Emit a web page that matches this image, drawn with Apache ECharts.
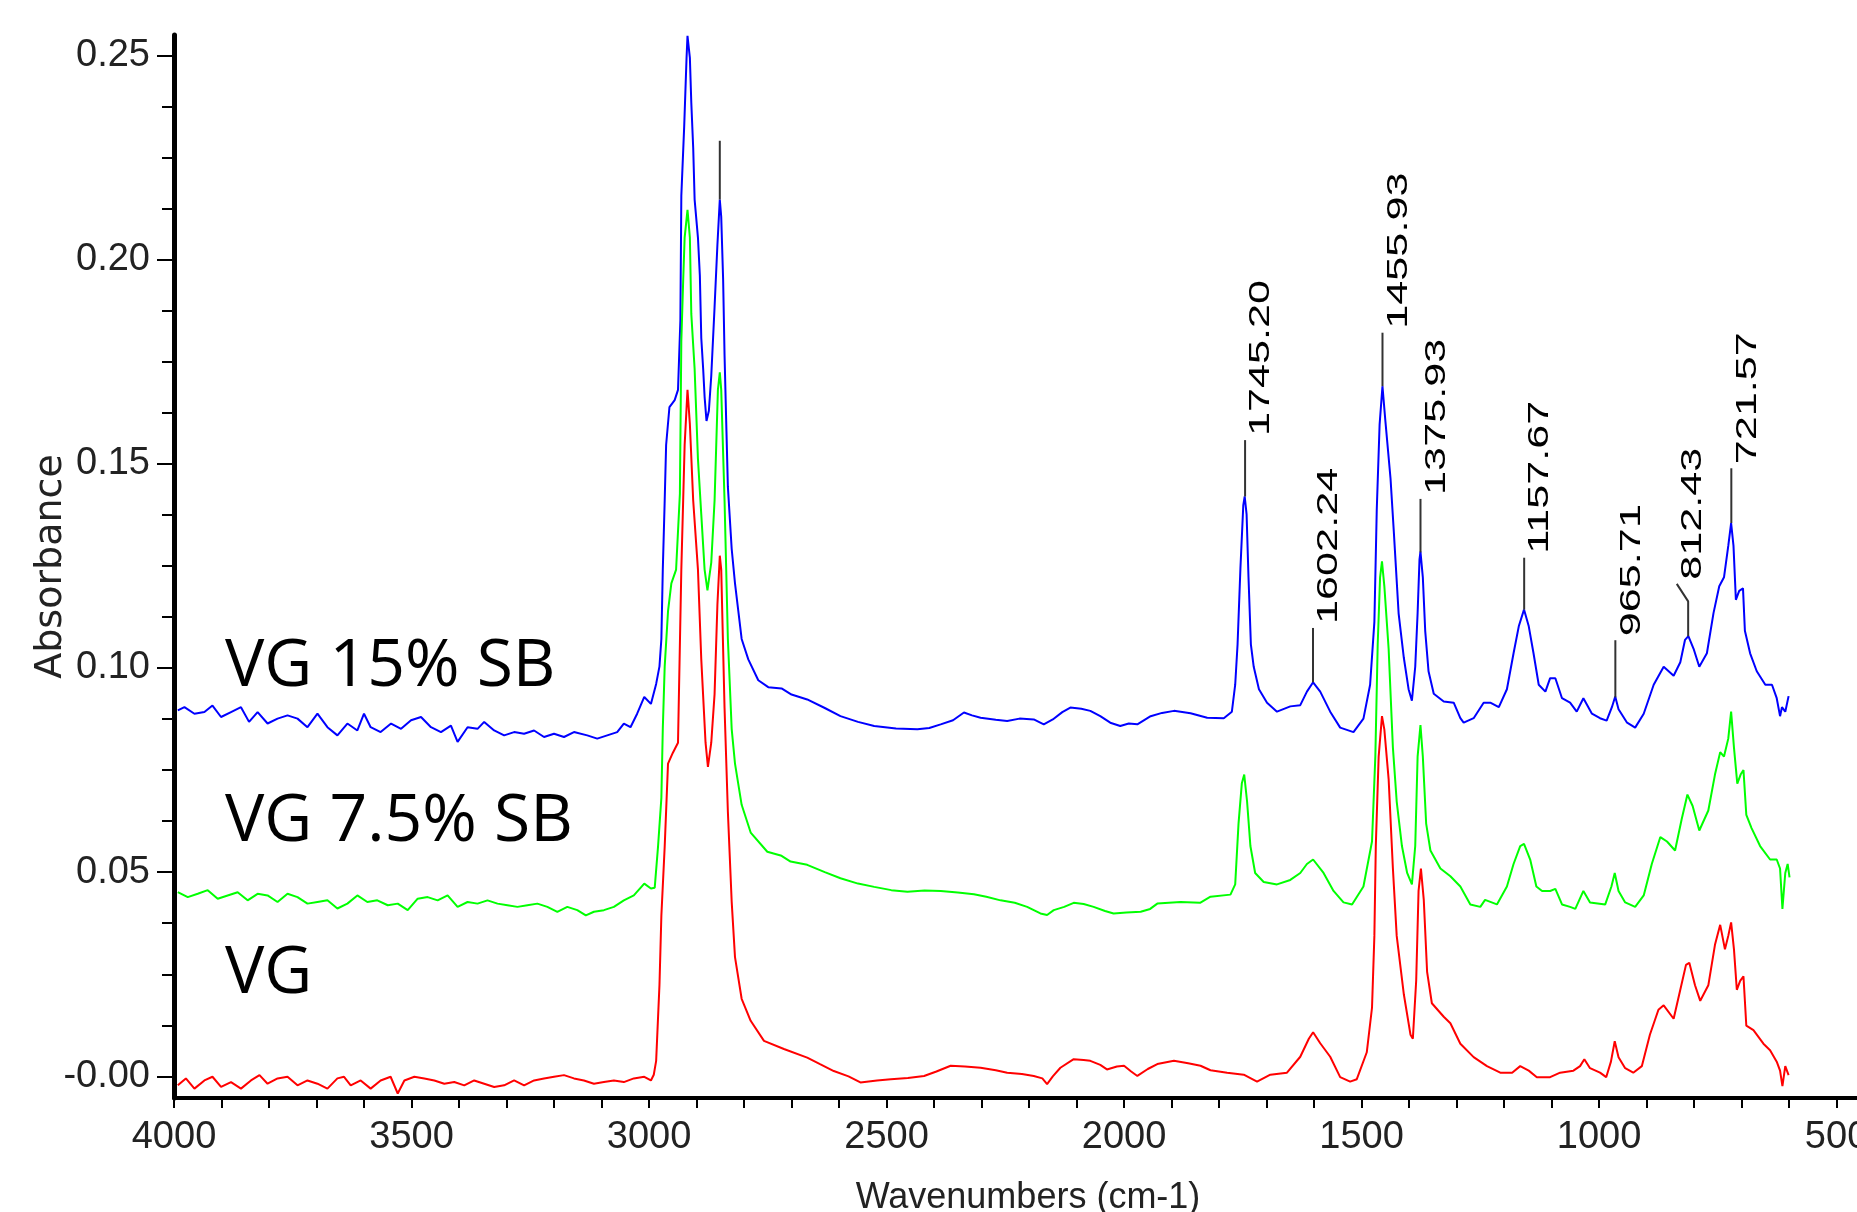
<!DOCTYPE html>
<html>
<head>
<meta charset="utf-8">
<script src="https://cdn.jsdelivr.net/npm/echarts@6/dist/echarts.min.js"></script>
<style>
html,body{margin:0;padding:0;background:#fff;}
#chart{width:1857px;height:1212px;}
</style>
</head>
<body>
<div id="chart"></div>
<script>
// ---------------- DATA ----------------
const vg15Wn = [3992,3978,3957,3936,3919,3901,3880,3859,3842,3824,3803,3782,3761,3740,3719,3698,3677,3656,3635,3614,3600,3586,3565,3543,3522,3501,3480,3459,3438,3417,3403,3382,3361,3347,3326,3305,3284,3263,3242,3221,3200,3179,3158,3130,3109,3088,3067,3053,3039,3025,3010,2996,2985,2978,2974,2971,2967,2964,2957,2946,2939,2934,2932,2926,2921,2919,2914,2911,2907,2904,2897,2893,2890,2886,2883,2879,2874,2869,2862,2856,2851,2848,2844,2841,2837,2834,2826,2819,2812,2805,2791,2770,2749,2721,2700,2667,2630,2597,2560,2526,2480,2435,2410,2386,2360,2337,2320,2302,2270,2246,2220,2190,2169,2150,2130,2113,2090,2071,2050,2029,2008,1990,1972,1944,1920,1895,1860,1825,1790,1773,1766,1761,1755,1749,1746,1742,1738,1733,1727,1716,1699,1678,1650,1629,1615,1602,1587,1566,1545,1517,1496,1482,1473,1468,1462,1456,1450,1439,1432,1422,1411,1401,1394,1387,1382,1378,1376,1371,1366,1359,1348,1327,1306,1292,1285,1264,1243,1229,1211,1194,1180,1169,1158,1148,1138,1127,1113,1103,1092,1078,1061,1047,1033,1015,998,984,973,966,959,941,924,906,885,864,843,829,819,812,801,789,773,759,747,737,728,722,717,712,705,697,693,682,668,650,636,626,619,615,608,601];
const vg15Abs = [0.0896,0.0904,0.0888,0.0892,0.0908,0.0880,0.0892,0.0904,0.0868,0.0892,0.0864,0.0876,0.0884,0.0876,0.0855,0.0888,0.0855,0.0835,0.0864,0.0847,0.0888,0.0855,0.0843,0.0864,0.0851,0.0872,0.0880,0.0855,0.0843,0.0859,0.0819,0.0855,0.0851,0.0868,0.0847,0.0835,0.0843,0.0839,0.0847,0.0831,0.0839,0.0831,0.0843,0.0835,0.0827,0.0835,0.0843,0.0864,0.0855,0.0888,0.0929,0.0912,0.0961,0.1004,0.1071,0.1241,0.1410,0.1546,0.1639,0.1656,0.1681,0.1851,0.2156,0.2325,0.2494,0.2548,0.2494,0.2384,0.2274,0.2147,0.2054,0.1961,0.1808,0.1732,0.1664,0.1605,0.1630,0.1715,0.1884,0.2037,0.2147,0.2105,0.1952,0.1766,0.1580,0.1444,0.1292,0.1207,0.1139,0.1071,0.1021,0.0970,0.0953,0.0950,0.0935,0.0923,0.0902,0.0882,0.0868,0.0858,0.0852,0.0850,0.0853,0.0862,0.0872,0.0891,0.0884,0.0878,0.0873,0.0870,0.0876,0.0874,0.0862,0.0874,0.0892,0.0903,0.0900,0.0895,0.0882,0.0866,0.0858,0.0864,0.0862,0.0882,0.0890,0.0895,0.0889,0.0878,0.0877,0.0893,0.0959,0.1058,0.1244,0.1398,0.1420,0.1376,0.1222,0.1058,0.1003,0.0948,0.0915,0.0893,0.0906,0.0909,0.0942,0.0965,0.0942,0.0893,0.0854,0.0843,0.0876,0.0959,0.1113,0.1387,0.1596,0.1690,0.1607,0.1464,0.1332,0.1134,0.1025,0.0948,0.0920,0.1003,0.1134,0.1266,0.1285,0.1222,0.1091,0.0992,0.0937,0.0918,0.0915,0.0877,0.0866,0.0877,0.0915,0.0915,0.0904,0.0948,0.1036,0.1102,0.1143,0.1102,0.1036,0.0959,0.0942,0.0975,0.0975,0.0926,0.0915,0.0893,0.0926,0.0888,0.0877,0.0871,0.0904,0.0930,0.0899,0.0866,0.0854,0.0888,0.0959,0.1003,0.0981,0.1014,0.1069,0.1078,0.1047,0.1003,0.1036,0.1135,0.1200,0.1222,0.1299,0.1355,0.1299,0.1167,0.1189,0.1195,0.1091,0.1036,0.0992,0.0959,0.0959,0.0926,0.0882,0.0904,0.0893,0.0931];

const vg75Wn = [3992,3971,3950,3929,3908,3887,3866,3845,3824,3803,3782,3761,3740,3719,3698,3677,3656,3635,3614,3593,3572,3550,3529,3508,3487,3466,3445,3424,3403,3382,3361,3340,3319,3298,3277,3256,3235,3214,3193,3172,3151,3133,3116,3095,3074,3053,3032,3010,2996,2988,2981,2974,2971,2967,2960,2953,2943,2935,2932,2928,2925,2919,2914,2911,2904,2897,2890,2883,2877,2869,2862,2855,2851,2848,2841,2834,2826,2819,2805,2786,2751,2721,2702,2667,2630,2597,2560,2526,2490,2456,2420,2386,2350,2316,2290,2260,2230,2204,2176,2162,2148,2126,2106,2085,2064,2040,2022,1995,1965,1945,1930,1881,1840,1818,1776,1766,1759,1752,1747,1741,1734,1724,1706,1678,1650,1629,1615,1602,1580,1559,1538,1520,1496,1478,1471,1466,1461,1457,1452,1443,1434,1426,1415,1404,1394,1387,1382,1376,1371,1364,1355,1334,1313,1292,1271,1250,1240,1215,1194,1180,1166,1158,1145,1132,1120,1103,1092,1078,1061,1050,1033,1019,987,974,967,959,945,924,906,889,871,857,840,826,814,803,789,770,756,745,737,728,722,716,709,702,696,690,679,661,640,626,619,614,608,603,599];
const vg75Abs = [0.0451,0.0439,0.0447,0.0456,0.0435,0.0443,0.0451,0.0431,0.0447,0.0443,0.0427,0.0447,0.0439,0.0423,0.0427,0.0431,0.0411,0.0423,0.0443,0.0427,0.0431,0.0419,0.0423,0.0407,0.0435,0.0439,0.0431,0.0443,0.0415,0.0427,0.0423,0.0431,0.0423,0.0419,0.0415,0.0419,0.0423,0.0415,0.0403,0.0415,0.0407,0.0394,0.0403,0.0407,0.0415,0.0431,0.0443,0.0472,0.0460,0.0462,0.0563,0.0682,0.0851,0.1004,0.1139,0.1207,0.1241,0.1427,0.1800,0.1952,0.2054,0.2122,0.2054,0.1867,0.1732,0.1512,0.1376,0.1241,0.1190,0.1258,0.1410,0.1681,0.1724,0.1681,0.1410,0.1071,0.0851,0.0766,0.0665,0.0597,0.0550,0.0540,0.0526,0.0518,0.0500,0.0485,0.0472,0.0464,0.0456,0.0452,0.0455,0.0454,0.0450,0.0446,0.0440,0.0431,0.0425,0.0415,0.0399,0.0395,0.0407,0.0415,0.0425,0.0422,0.0415,0.0405,0.0399,0.0401,0.0403,0.0410,0.0423,0.0427,0.0425,0.0440,0.0445,0.0470,0.0619,0.0718,0.0739,0.0673,0.0564,0.0498,0.0476,0.0470,0.0481,0.0498,0.0520,0.0531,0.0498,0.0454,0.0426,0.0421,0.0465,0.0575,0.0783,0.1058,0.1222,0.1261,0.1200,0.1047,0.0805,0.0673,0.0564,0.0498,0.0470,0.0564,0.0783,0.0860,0.0783,0.0619,0.0553,0.0509,0.0490,0.0465,0.0421,0.0415,0.0432,0.0421,0.0465,0.0520,0.0564,0.0569,0.0531,0.0465,0.0454,0.0454,0.0459,0.0421,0.0415,0.0410,0.0454,0.0426,0.0421,0.0465,0.0498,0.0454,0.0426,0.0415,0.0443,0.0520,0.0586,0.0575,0.0553,0.0630,0.0690,0.0662,0.0602,0.0651,0.0739,0.0794,0.0783,0.0827,0.0893,0.0805,0.0717,0.0739,0.0750,0.0640,0.0608,0.0564,0.0531,0.0531,0.0509,0.0410,0.0498,0.0520,0.0487];

const vgWn = [3992,3975,3957,3936,3919,3901,3880,3859,3838,3820,3803,3782,3761,3740,3719,3698,3677,3656,3642,3628,3607,3586,3565,3544,3529,3515,3494,3473,3452,3431,3410,3389,3368,3347,3326,3305,3284,3263,3242,3221,3200,3179,3158,3137,3116,3095,3074,3053,3032,3010,2996,2990,2985,2978,2974,2967,2960,2950,2939,2932,2925,2919,2914,2907,2897,2890,2881,2876,2869,2862,2856,2851,2848,2841,2834,2826,2819,2805,2786,2758,2716,2667,2640,2611,2580,2555,2520,2491,2455,2421,2395,2365,2335,2302,2270,2246,2215,2190,2172,2162,2150,2134,2106,2085,2071,2050,2036,2015,2000,1985,1972,1950,1930,1895,1865,1839,1818,1783,1748,1720,1692,1657,1629,1611,1602,1587,1566,1545,1524,1510,1489,1478,1473,1470,1464,1457,1452,1443,1434,1426,1411,1397,1392,1385,1380,1375,1369,1362,1352,1327,1313,1292,1264,1236,1208,1183,1166,1148,1131,1103,1082,1054,1040,1031,1019,998,985,975,967,959,945,928,910,893,875,864,843,829,817,810,798,787,770,756,745,735,728,722,716,710,703,696,690,675,654,640,626,619,614,608,601];
const vgAbs = [-0.0022,-0.0005,-0.0030,-0.0010,-0.0001,-0.0026,-0.0014,-0.0030,-0.0010,0.0003,-0.0018,-0.0005,-0.0001,-0.0022,-0.0010,-0.0018,-0.0030,-0.0005,-0.0001,-0.0022,-0.0010,-0.0030,-0.0010,-0.0001,-0.0042,-0.0010,-0.0001,-0.0005,-0.0010,-0.0018,-0.0014,-0.0022,-0.0010,-0.0018,-0.0026,-0.0022,-0.0010,-0.0022,-0.0010,-0.0005,-0.0001,0.0003,-0.0005,-0.0010,-0.0018,-0.0014,-0.0010,-0.0014,-0.0005,-0.0001,-0.0010,0.0004,0.0038,0.0224,0.0394,0.0563,0.0766,0.0792,0.0817,0.1241,0.1546,0.1681,0.1597,0.1410,0.1241,0.1021,0.0817,0.0758,0.0817,0.0936,0.1156,0.1275,0.1241,0.0902,0.0648,0.0428,0.0292,0.0190,0.0136,0.0087,0.0067,0.0046,0.0030,0.0013,0.0000,-0.0015,-0.0010,-0.0007,-0.0004,0.0001,0.0012,0.0026,0.0024,0.0021,0.0015,0.0009,0.0006,0.0001,-0.0005,-0.0019,0.0000,0.0021,0.0042,0.0040,0.0038,0.0028,0.0017,0.0024,0.0026,0.0012,0.0001,0.0018,0.0030,0.0038,0.0032,0.0026,0.0015,0.0009,0.0004,-0.0013,0.0004,0.0009,0.0048,0.0092,0.0108,0.0081,0.0048,-0.0002,-0.0013,-0.0007,0.0059,0.0168,0.0344,0.0564,0.0783,0.0882,0.0849,0.0728,0.0509,0.0344,0.0201,0.0102,0.0092,0.0234,0.0454,0.0509,0.0432,0.0256,0.0179,0.0146,0.0130,0.0080,0.0047,0.0025,0.0009,0.0009,0.0025,0.0014,-0.0002,-0.0002,0.0009,0.0014,0.0025,0.0042,0.0020,0.0009,-0.0002,0.0036,0.0086,0.0047,0.0020,0.0009,0.0025,0.0102,0.0163,0.0174,0.0141,0.0212,0.0273,0.0278,0.0223,0.0185,0.0223,0.0322,0.0371,0.0311,0.0344,0.0377,0.0311,0.0212,0.0234,0.0245,0.0124,0.0113,0.0080,0.0064,0.0036,0.0014,-0.0024,0.0025,0.0003];

// peak annotations (on the VG 15% SB trace)
const peakWn    = [1745.20, 1602.24, 1455.93, 1375.93, 1157.67, 965.71, 812.43, 721.57];
const peakLabel = ['1745.20','1602.24','1455.93','1375.93','1157.67','965.71','812.43','721.57'];
const peakBase  = [0.1420, 0.0965, 0.1690, 0.1283, 0.1143, 0.0928, 0.1078, 0.1355];
const peakTop   = [0.1558, 0.1098, 0.1821, 0.1414, 0.1270, 0.1068, 0.1163, 0.1489];
const peakKinkWn  = [null, null, null, null, null, null, 836.4, null];
const peakKinkAbs = [null, null, null, null, null, null, 0.1206, null];
const extraMarkWn = [2851];
const extraMarkBase = [0.2147];
const extraMarkTop = [0.2291];

// axis ticks and labels
const xLabelValues = [4000, 3500, 3000, 2500, 2000, 1500, 1000, 500];
const yLabelValues = [0, 0.05, 0.10, 0.15, 0.20, 0.25];
const yMinorValues = [0.0125, 0.025, 0.0375, 0.0625, 0.075, 0.0875, 0.1125, 0.125, 0.1375, 0.1625, 0.175, 0.1875, 0.2125, 0.225, 0.2375];

const sampleNames = ['VG 15% SB', 'VG 7.5% SB', 'VG'];

// ---------------- CHART ----------------
const zip = (a, b) => a.map((v, i) => [v, b[i]]);
const xTickValues = [];
for (let v = 500; v <= 4000; v += 100) xTickValues.push(v);

const tickFont = '"Liberation Sans", Arial, sans-serif';
const GRID = {left: 174, right: 0, top: 35, bottom: 114};

const leaderSeries = [];
peakWn.forEach((wn, i) => {
  const pts = [[wn, peakBase[i]], [wn, peakTop[i]]];
  if (peakKinkWn[i] !== null) pts.push([peakKinkWn[i], peakKinkAbs[i]]);
  leaderSeries.push({
    type: 'line', data: pts, symbol: 'none', silent: true, z: 5,
    lineStyle: {color: '#333', width: 2}, xAxisIndex: 0, yAxisIndex: 0
  });
});
extraMarkWn.forEach((wn, i) => {
  leaderSeries.push({
    type: 'line', data: [[wn, extraMarkBase[i]], [wn, extraMarkTop[i]]], symbol: 'none', silent: true, z: 5,
    lineStyle: {color: '#333', width: 2}
  });
});

const sampleFont = '"Open Sans", "Noto Sans", sans-serif';
const option = {
  animation: false,
  backgroundColor: '#fff',
  grid: Object.assign({outerBoundsMode: 'none', containLabel: false}, GRID),
  xAxis: {
    type: 'value', inverse: true, min: 457, max: 4000,
    name: 'Wavenumbers (cm-1)', nameLocation: 'middle', nameGap: 82, nameMoveOverlap: false,
    nameTextStyle: {fontFamily: tickFont, fontSize: 36, color: '#222', padding: [0, 0, 0, 25]},
    axisLine: {show: true, onZero: false, lineStyle: {color: '#000', width: 4}},
    axisTick: {show: true, inside: false, length: 10, customValues: xTickValues, lineStyle: {color: '#000', width: 2}},
    axisLabel: {show: true, customValues: xLabelValues, margin: 21, fontFamily: tickFont, fontSize: 38, color: '#222',
      formatter: v => String(v)},
    splitLine: {show: false}
  },
  yAxis: [{
    type: 'value', min: -0.0053, max: 0.255, position: 'left',
    name: 'Absorbance', nameLocation: 'middle', nameRotate: 90, nameGap: 104, nameMoveOverlap: false,
    nameTextStyle: {fontFamily: '"DejaVu Sans", sans-serif', fontSize: 38, color: '#222'},
    axisLine: {show: true, onZero: false, lineStyle: {color: '#000', width: 5}},
    axisTick: {show: true, inside: false, length: 17, customValues: yLabelValues, lineStyle: {color: '#000', width: 2}},
    axisLabel: {show: true, customValues: yLabelValues, margin: 24, fontFamily: tickFont, fontSize: 38, color: '#222',
      padding: [8, 0, 0, 0],
      formatter: v => (Math.abs(v) < 1e-9 ? '-0.00' : v.toFixed(2))},
    splitLine: {show: false}
  }, {
    type: 'value', min: -0.0053, max: 0.255, position: 'left',
    axisLine: {show: false},
    axisTick: {show: true, inside: false, length: 12, customValues: yMinorValues, lineStyle: {color: '#000', width: 2}},
    axisLabel: {show: false},
    splitLine: {show: false}
  }],
  series: [
    {name: sampleNames[0], type: 'line', data: zip(vg15Wn, vg15Abs), symbol: 'none', lineStyle: {color: '#0000ff', width: 2}, itemStyle: {color: '#0000ff'}, z: 2},
    {name: sampleNames[1], type: 'line', data: zip(vg75Wn, vg75Abs), symbol: 'none', lineStyle: {color: '#00ff00', width: 2}, itemStyle: {color: '#00ff00'}, z: 3},
    {name: sampleNames[2], type: 'line', data: zip(vgWn, vgAbs), symbol: 'none', lineStyle: {color: '#ff0000', width: 2}, itemStyle: {color: '#ff0000'}, z: 4}
  ].concat(leaderSeries),
  graphic: [
    {type: 'text', id: 'lab0', left: 225, top: 634, silent: true,
      style: {text: sampleNames[0], fontFamily: sampleFont, fontSize: 66, fill: '#000'}},
    {type: 'text', id: 'lab1', left: 225, top: 789, silent: true,
      style: {text: sampleNames[1], fontFamily: sampleFont, fontSize: 66, fill: '#000'}},
    {type: 'text', id: 'lab2', left: 225, top: 941, silent: true,
      style: {text: sampleNames[2], fontFamily: sampleFont, fontSize: 66, fill: '#000'}}
  ]
};

const chart = echarts.init(document.getElementById('chart'), null, {renderer: 'canvas'});
chart.setOption(option);

// peak labels: rotated text placed at the top of each leader (through the chart's scales)
const peakGraphics = peakWn.map((wn, i) => {
  const endWn = peakKinkWn[i] !== null ? peakKinkWn[i] : wn;
  const endAbs = peakKinkAbs[i] !== null ? peakKinkAbs[i] : peakTop[i];
  const p = chart.convertToPixel({xAxisIndex: 0, yAxisIndex: 0}, [endWn, endAbs]);
  return {
    type: 'text', id: 'pk' + i, x: p[0] + 16, y: p[1] - 4, rotation: Math.PI / 2, scaleX: 1.44, scaleY: 1,
    silent: true, z: 100,
    style: {text: peakLabel[i], fontFamily: '"Liberation Sans", Arial, sans-serif', fontSize: 30, fill: '#000',
      align: 'left', verticalAlign: 'middle', textAlign: 'left', textVerticalAlign: 'middle'}
  };
});
chart.setOption({graphic: peakGraphics});
</script>
</body>
</html>
